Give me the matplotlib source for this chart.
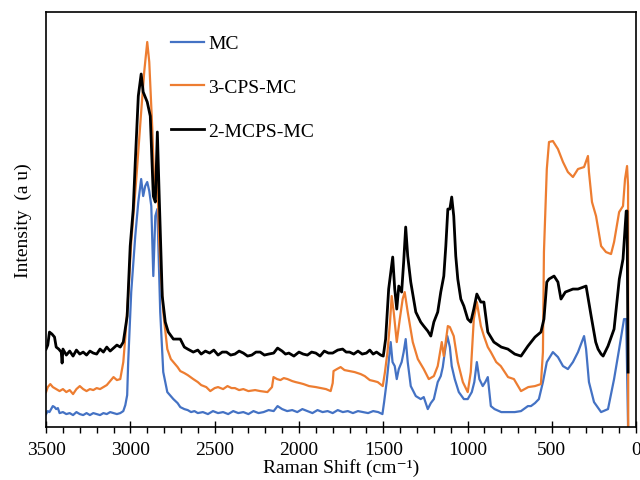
import matplotlib
matplotlib.use("Agg")
import matplotlib.pyplot as plt
from matplotlib.ticker import MultipleLocator

# Raman shift (cm-1) and intensity (arbitrary units)
mc_x = [3500, 3490, 3480, 3470, 3460, 3450, 3440, 3430, 3420, 3400, 3380, 3360, 3340, 3320,
        3300, 3280, 3260, 3240, 3220, 3200, 3180, 3160, 3140, 3120, 3100, 3080, 3060, 3042,
        3030, 3019, 3013, 2995, 2971, 2953, 2936, 2924, 2912, 2900, 2888, 2876, 2864, 2852,
        2840, 2834, 2823, 2805, 2781, 2760, 2745, 2720, 2704, 2680, 2660, 2640, 2620, 2600,
        2570, 2540, 2510, 2480, 2450, 2420, 2390, 2360, 2330, 2300, 2270, 2240, 2210, 2180,
        2150, 2127, 2100, 2070, 2040, 2010, 1980, 1950, 1920, 1890, 1860, 1830, 1800, 1770,
        1740, 1710, 1680, 1650, 1620, 1590, 1560, 1530, 1505, 1495, 1480, 1465, 1456, 1445,
        1432, 1420, 1408, 1391, 1379, 1367, 1355, 1337, 1307, 1278, 1260, 1236, 1218, 1200,
        1177, 1159, 1147, 1135, 1120, 1105, 1094, 1076, 1052, 1022, 999, 975, 960, 945, 930,
        910, 895, 880, 862, 840, 800, 760, 720, 683, 642, 624, 600, 577, 553, 530, 494, 464,
        434, 405, 375, 345, 309, 297, 280, 250, 208, 167, 131, 101, 72, 59, 48]
mc_y = [13, 16, 15, 18, 21, 20, 18, 19, 14, 15, 13, 14, 12, 15,
        13, 12, 14, 12, 14, 13, 12, 14, 13, 15, 14, 13, 14, 16,
        22, 32, 65, 135, 191, 225, 248, 231, 241, 245, 236, 221, 151, 211,
        218, 181, 115, 55, 35, 31, 28, 24, 20, 18, 17, 15, 16, 14,
        15, 13, 16, 14, 15, 13, 16, 14, 15, 13, 16, 14, 15, 17,
        16, 21, 18, 16, 17, 15, 18, 16, 14, 17, 15, 16, 14, 17,
        15, 16, 14, 16, 15, 14, 16, 15, 13, 25, 45, 70, 85, 65,
        61, 48, 58, 65, 75, 88, 65, 41, 31, 28, 30, 18, 24, 28,
        45, 51, 60, 75, 91, 80, 61, 48, 35, 28, 28, 35, 45, 65, 48,
        41, 45, 50, 21, 18, 15, 15, 15, 16, 21, 21, 24, 28, 45, 65, 75, 70,
        61, 58, 65, 75, 91, 78, 45, 25, 15, 18, 48, 78, 108, 108, 0]

cps_x = [3500, 3490, 3475, 3460, 3440, 3420, 3400, 3380, 3360, 3340, 3320, 3300, 3280, 3260,
         3240, 3220, 3200, 3180, 3160, 3140, 3120, 3100, 3080, 3060, 3042, 3030, 3013, 2995,
         2965, 2936, 2918, 2900, 2888, 2870, 2858, 2848, 2840, 2829, 2805, 2781, 2760, 2745,
         2720, 2704, 2680, 2660, 2627, 2600, 2580, 2550, 2526, 2500, 2480, 2450, 2424, 2400,
         2380, 2355, 2330, 2300, 2260, 2230, 2187, 2160, 2151, 2130, 2110, 2090, 2068, 2040,
         2020, 1995, 1973, 1940, 1900, 1870, 1840, 1812, 1800, 1795, 1775, 1753, 1730, 1700,
         1670, 1634, 1610, 1580, 1555, 1533, 1503, 1490, 1475, 1460, 1450, 1438, 1420, 1402,
         1385, 1373, 1355, 1325, 1295, 1260, 1230, 1200, 1177, 1153, 1141, 1117, 1105, 1082,
         1058, 1028, 999, 981, 963, 945, 921, 903, 880, 862, 830, 803, 760, 725, 683, 640,
         600, 565, 553, 547, 530, 517, 494, 464, 434, 405, 375, 345, 309, 286, 280, 262,
         238, 208, 179, 149, 131, 101, 78, 66, 54, 48, 47]
cps_y = [35, 40, 43, 40, 38, 36, 38, 35, 37, 33, 38, 41, 38, 36,
         38, 37, 39, 38, 40, 42, 46, 50, 47, 48, 65, 90, 131, 185,
         248, 315, 355, 385, 365, 298, 238, 250, 248, 185, 115, 78, 68, 65,
         60, 56, 54, 52, 48, 45, 42, 40, 36, 39, 40, 38, 41, 39,
         39, 37, 38, 36, 37, 36, 35, 40, 50, 48, 47, 49, 48, 46,
         45, 44, 43, 41, 40, 39, 38, 36, 44, 56, 58, 60, 57, 56,
         55, 53, 51, 47, 46, 45, 41, 55, 75, 105, 131, 115, 85, 108,
         128, 135, 115, 85, 68, 58, 48, 51, 61, 85, 71, 101, 100, 91,
         65, 45, 35, 55, 108, 125, 101, 91, 80, 75, 65, 61, 50, 48, 36, 40,
         41, 43, 75, 175, 258, 285, 286, 278, 265, 255, 250, 258, 260, 271, 255, 225,
         211, 181, 175, 173, 185, 215, 221, 248, 261, 241, 0]

mcps_x = [3500, 3490, 3480, 3465, 3450, 3440, 3425, 3410, 3405, 3400, 3380, 3360, 3340, 3320,
          3300, 3280, 3260, 3240, 3220, 3200, 3180, 3160, 3140, 3120, 3100, 3080, 3060, 3042,
          3019, 3001, 2983, 2971, 2953, 2936, 2924, 2900, 2882, 2864, 2852, 2840, 2829, 2811,
          2793, 2775, 2745, 2704, 2680, 2660, 2627, 2600, 2580, 2555, 2530, 2505, 2480, 2455,
          2430, 2405, 2380, 2355, 2330, 2305, 2280, 2255, 2230, 2205, 2180, 2150, 2127, 2100,
          2080, 2060, 2030, 2000, 1975, 1950, 1925, 1900, 1875, 1850, 1825, 1800, 1770, 1741,
          1720, 1700, 1675, 1650, 1625, 1600, 1580, 1560, 1540, 1515, 1500, 1486, 1468, 1444,
          1432, 1420, 1408, 1391, 1379, 1367, 1355, 1337, 1307, 1278, 1260, 1236, 1218, 1200,
          1177, 1159, 1141, 1129, 1117, 1105, 1094, 1082, 1070, 1058, 1040, 1022, 999, 981,
          963, 945, 921, 903, 880, 844, 800, 761, 720, 683, 642, 600, 565, 547, 530, 517,
          487, 464, 446, 420, 405, 375, 345, 297, 286, 267, 240, 226, 208, 196, 167, 131,
          100, 78, 59, 54, 48]
mcps_y = [78, 82, 95, 93, 90, 80, 78, 75, 64, 78, 72, 76, 71, 77,
          73, 75, 72, 76, 74, 73, 78, 75, 80, 76, 79, 82, 80, 85,
          111, 181, 218, 265, 331, 353, 335, 325, 311, 231, 225, 295, 231, 131,
          105, 95, 88, 88, 80, 78, 75, 77, 73, 76, 74, 77, 72, 75,
          75, 72, 73, 76, 74, 71, 72, 75, 75, 72, 73, 74, 79, 76,
          73, 74, 71, 75, 73, 72, 75, 74, 71, 76, 74, 74, 77, 78,
          75, 75, 73, 76, 73, 74, 77, 73, 75, 72, 71, 88, 138, 170,
          138, 118, 141, 135, 165, 200, 171, 145, 115, 105, 101, 96, 91, 105,
          115, 135, 151, 181, 218, 218, 230, 211, 171, 148, 128, 121, 108, 105,
          118, 133, 125, 125, 95, 85, 80, 78, 73, 71, 81, 90, 95, 108, 145, 148,
          151, 145, 128, 135, 136, 138, 138, 141, 130, 111, 85, 78, 73, 71, 81, 98,
          148, 168, 216, 216, 55]

labels = ["MC", "3-CPS-MC", "2-MCPS-MC"]
colors = ["#4472C4", "#ED7D31", "#000000"]

plt.rcParams["font.family"] = ["Liberation Serif", "DejaVu Serif"]
plt.rcParams["font.size"] = 14

fig = plt.figure(figsize=(6.4, 4.81), dpi=100)
ax = fig.add_axes([0.072, 0.110, 0.922, 0.863])

ax.plot(mc_x, mc_y, color=colors[0], lw=1.6, label=labels[0])
ax.plot(cps_x, cps_y, color=colors[1], lw=1.6, label=labels[1])
ax.plot(mcps_x, mcps_y, color=colors[2], lw=2.0, label=labels[2])

ax.set_xlim(3500, 0)
ax.set_ylim(0, 415)
ax.xaxis.set_major_locator(MultipleLocator(500))
ax.xaxis.set_minor_locator(MultipleLocator(100))
ax.tick_params(axis="x", which="major", direction="inout", length=8, width=1, pad=6)
ax.tick_params(axis="x", which="minor", direction="out", length=4, width=1)
ax.set_yticks([])
for s in ax.spines.values():
    s.set_linewidth(1.2)

ax.set_xlabel("Raman Shift (cm⁻¹)", labelpad=0)
ax.set_ylabel("Intensity  (a u)", labelpad=10)

ax.legend(loc="upper left", bbox_to_anchor=(0.212, 0.945), frameon=False,
          handlelength=1.7, handletextpad=0.2, labelspacing=1.35,
          borderaxespad=0, borderpad=0)

fig.savefig("out.png", dpi=100)
